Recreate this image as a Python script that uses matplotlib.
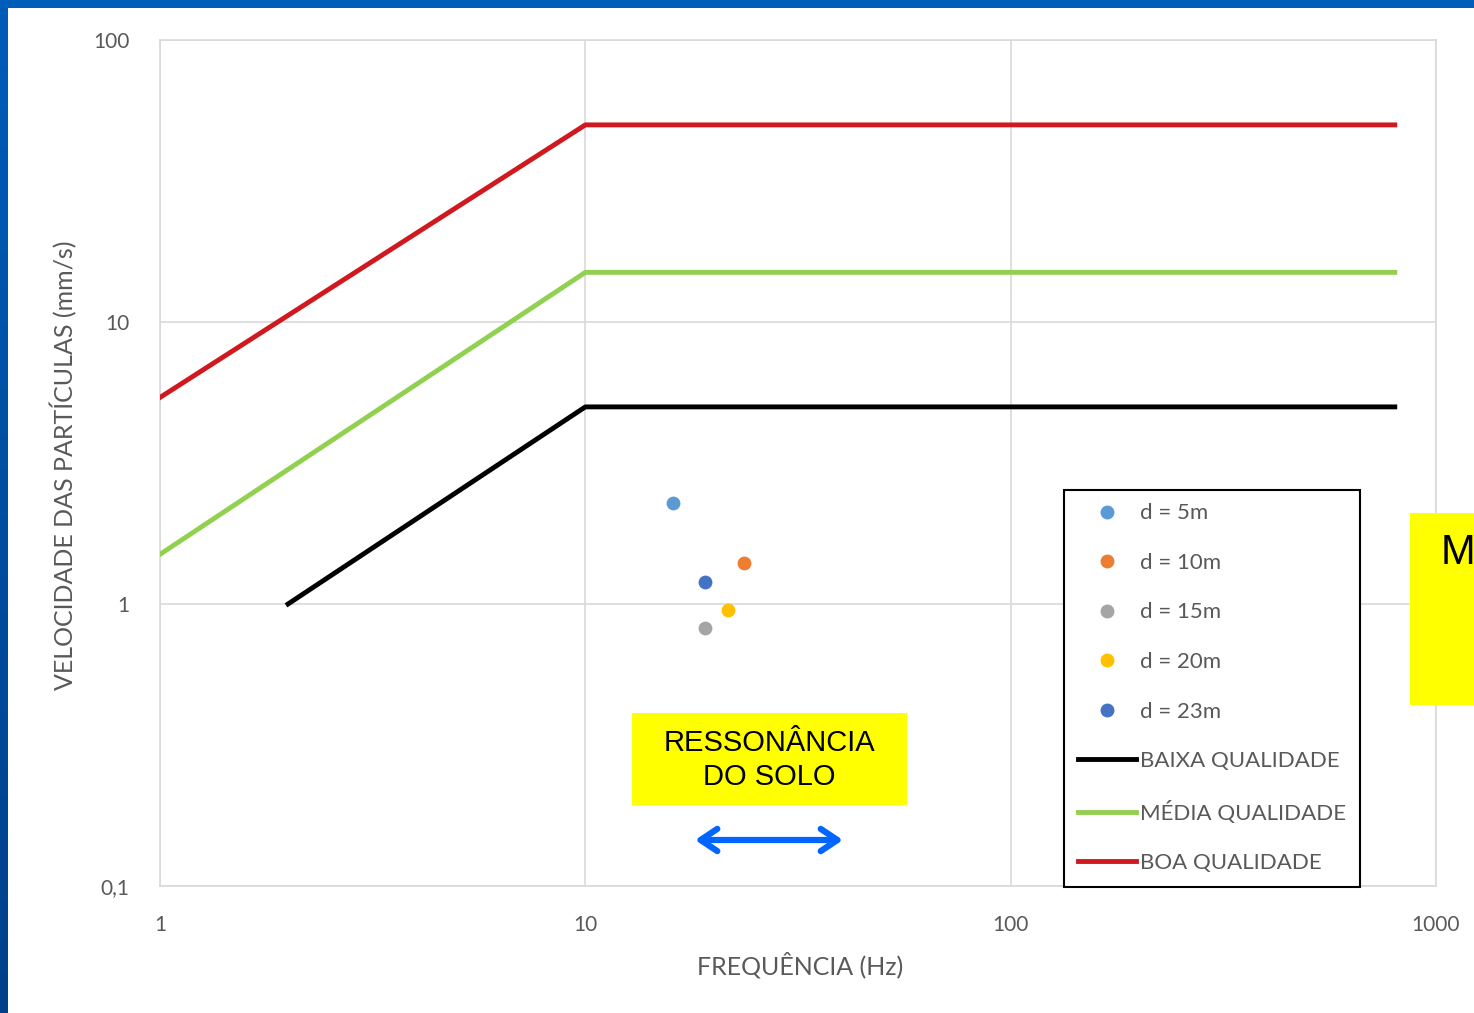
import matplotlib.pyplot as plt
import matplotlib.patches as mpatches
from matplotlib.lines import Line2D
import numpy as np

# limites de qualidade (frequência em Hz, velocidade em mm/s)
freq_baixa = [2, 10, 800]
vel_baixa = [1.0, 5.0, 5.0]
freq_media = [1, 10, 800]
vel_media = [1.5, 15.0, 15.0]
freq_boa = [1, 10, 800]
vel_boa = [5.4, 50.0, 50.0]

# medições por distância
distancias = ['d = 5m', 'd = 10m', 'd = 15m', 'd = 20m', 'd = 23m']
freq_medida = [16.1, 23.6, 19.1, 21.7, 19.1]
vel_medida = [2.28, 1.40, 0.82, 0.95, 1.20]
cores_pontos = ['#5B9BD5', '#ED7D31', '#A5A5A5', '#FFC000', '#4472C4']

W, H = 1474, 1013
fig = plt.figure(figsize=(W / 100, H / 100), dpi=100)
fig.patch.set_facecolor('white')

# moldura azul do slide
grad = np.linspace(0, 1, 256).reshape(-1, 1)
ax_bar = fig.add_axes([0, 0, 8 / W, 1])
ax_bar.imshow(grad, aspect='auto', cmap=plt.matplotlib.colors.LinearSegmentedColormap.from_list(
    'b', ['#005CB9', '#00408A']), extent=[0, 1, 0, 1])
ax_bar.axis('off')
fig.patches.append(mpatches.Rectangle((0, 1 - 8 / H), 1, 8 / H, transform=fig.transFigure,
                                      facecolor='#005EB8', edgecolor='none', zorder=5))

ax = fig.add_axes([160 / W, 1 - 886 / H, 1276 / W, 846 / H])
ax.set_xscale('log')
ax.set_yscale('log')
ax.set_xlim(1, 1000)
ax.set_ylim(0.1, 100)

ax.grid(True, which='major', color='#D9D9D9', lw=1.2)
ax.minorticks_off()
for s in ax.spines.values():
    s.set_color('#D9D9D9')
    s.set_linewidth(1.2)
ax.tick_params(length=0, colors='#595959', labelsize=15)
ax.set_xticks([1, 10, 100, 1000])
ax.set_xticklabels(['1', '10', '100', '1000'], fontfamily='Lato')
ax.set_yticks([0.1, 1, 10, 100])
ax.set_yticklabels(['0,1', '1', '10', '100'], fontfamily='Lato')
ax.tick_params(axis='x', pad=21)
ax.tick_params(axis='y', pad=22)

for f, v, c, lab in zip(freq_medida, vel_medida, cores_pontos, distancias):
    ax.scatter(f, v, s=80, color=c, zorder=4, label=lab)

ax.plot(freq_baixa, vel_baixa, color='black', lw=3.5, label='BAIXA QUALIDADE', zorder=3)
ax.plot(freq_media, vel_media, color='#92D050', lw=3.5, label='MÉDIA QUALIDADE', zorder=3)
ax.plot(freq_boa, vel_boa, color='#D0181F', lw=3.5, label='BOA QUALIDADE', zorder=3)

fig.text(800 / W, 1 - 965 / H, 'FREQUÊNCIA (Hz)', fontsize=18, color='#595959',
         fontfamily='Lato', ha='center', va='center')
fig.text(64 / W, 1 - 465 / H, 'VELOCIDADE DAS PARTÍCULAS (mm/s)', fontsize=18,
         color='#595959', fontfamily='Lato', ha='center', va='center', rotation=90)

handles = [Line2D([], [], marker='o', ls='none', markersize=9, color=c) for c in cores_pontos]
handles += [Line2D([], [], color='black', lw=3.5),
            Line2D([], [], color='#92D050', lw=3.5),
            Line2D([], [], color='#D0181F', lw=3.5)]
labels = distancias + ['BAIXA QUALIDADE', 'MÉDIA QUALIDADE', 'BOA QUALIDADE']
leg = ax.legend(handles, labels, loc='lower left', bbox_to_anchor=(904 / 1276, -1 / 846),
                frameon=True, fancybox=False, edgecolor='black', framealpha=1,
                prop={'family': 'Lato', 'size': 16}, labelspacing=1.33, handlelength=2.6,
                handletextpad=0.2, borderpad=0.62, borderaxespad=0)
leg.get_frame().set_linewidth(1.5)
for t in leg.get_texts():
    t.set_color('#595959')

# caixa de ressonância do solo
fig.patches.append(mpatches.Rectangle((632 / W, 1 - 805 / H), 275 / W, 92 / H,
                                      transform=fig.transFigure, facecolor='#FFFF00',
                                      edgecolor='none', zorder=5))
fig.text(769 / W, 1 - 760 / H, 'RESSONÂNCIA\nDO SOLO', ha='center', va='center',
         fontsize=21, fontfamily='Liberation Sans', linespacing=1.3, zorder=6)
ax.annotate('', xy=(695 / W, 1 - 840 / H), xytext=(843 / W, 1 - 840 / H),
            xycoords='figure fraction', textcoords='figure fraction',
            arrowprops=dict(arrowstyle='<->,head_length=1.2,head_width=0.8', color='#0066FF',
                            lw=4.5, shrinkA=0, shrinkB=0))

# caixa amarela à direita
fig.patches.append(mpatches.Rectangle((1410 / W, 1 - 705 / H), 70 / W, 192 / H,
                                      transform=fig.transFigure, facecolor='#FFFF00',
                                      edgecolor='none', zorder=5))
fig.text(1441 / W, 1 - 553 / H, 'M', ha='left', va='center', fontsize=30,
         fontfamily='Liberation Sans', zorder=6)

fig.savefig('out.png', dpi=100)
